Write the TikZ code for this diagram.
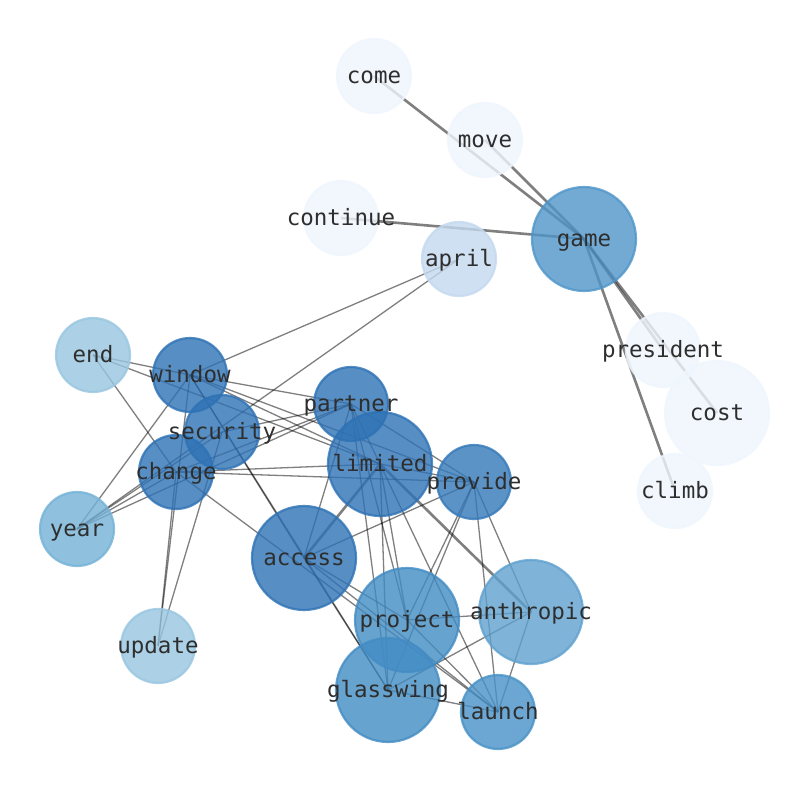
\documentclass[tikz,border=0pt]{standalone}
\usepackage{fontspec}
\setmonofont{DejaVu Sans Mono}
\pgfdeclarelayer{bg}
\pgfdeclarelayer{fg}
\pgfsetlayers{bg,main,fg}
\definecolor{cLight}{HTML}{EFF6FD}
\definecolor{cApril}{HTML}{C4D9EF}
\definecolor{cEnd}{HTML}{98C6E0}
\definecolor{cYear}{HTML}{74B2D7}
\definecolor{cAnth}{HTML}{5FA1CF}
\definecolor{cGame}{HTML}{4F95C9}
\definecolor{cGlass}{HTML}{428CC4}
\definecolor{cLaunch}{HTML}{4792C7}
\definecolor{cProv}{HTML}{3479B9}
\definecolor{cDark}{HTML}{2E72B5}
\definecolor{cText}{HTML}{2E2E2E}
\tikzset{
  wnode/.style={circle, inner sep=0pt, fill=#1, draw=#1, fill opacity=0.8, draw opacity=0.8, line width=2.2bp},
  small/.style={minimum size=74bp},
  big/.style={minimum size=104bp},
  lbl/.style={font=\ttfamily\fontsize{22.5bp}{25bp}\selectfont, text=cText, inner sep=0pt, anchor=center},
  thin edge/.style={draw=black, draw opacity=0.5, line width=1.3bp},
  thick edge/.style={draw=black, draw opacity=0.5, line width=2.6bp},
}
\begin{document}
\begin{tikzpicture}[x=1bp,y=-1bp]
\useasboundingbox (0,0) rectangle (794,790);
% nodes
\node[wnode=cLight, small] (come) at (374,76) {};
\node[wnode=cLight, small] (move) at (485,140) {};
\node[wnode=cLight, small] (cont) at (341,218) {};
\node[wnode=cApril, small] (april) at (459,259) {};
\node[wnode=cGame, big] (game) at (584,239) {};
\node[wnode=cLight, small] (pres) at (663,350) {};
\node[wnode=cLight, big] (cost) at (717,413) {};
\node[wnode=cLight, small] (climb) at (675,491) {};
\node[wnode=cEnd, small] (end) at (93,355) {};
\node[wnode=cDark, small] (window) at (190,375) {};
\node[wnode=cDark, small] (partner) at (351,404) {};
\node[wnode=cDark, small] (security) at (222,432) {};
\node[wnode=cDark, big] (limited) at (380,464) {};
\node[wnode=cDark, small] (change) at (176,472) {};
\node[wnode=cProv, small] (provide) at (474,482) {};
\node[wnode=cYear, small] (year) at (77,529) {};
\node[wnode=cDark, big] (access) at (304,558) {};
\node[wnode=cAnth, big] (anthropic) at (531,612) {};
\node[wnode=cGlass, big] (project) at (407,620) {};
\node[wnode=cEnd, small] (update) at (158,646) {};
\node[wnode=cGlass, big] (glasswing) at (388,690) {};
\node[wnode=cLaunch, small] (launch) at (498,712) {};
% edges
\begin{pgfonlayer}{bg}
\fill[white] (0,0) rectangle (794,790);
\foreach \a/\b in {come/game, move/game, cont/game, game/pres, game/cost, game/climb, limited/access, limited/anthropic}
  \draw[thick edge] (\a.center) -- (\b.center);
\foreach \a/\b in {end/window, window/partner, end/limited, end/change, window/april, window/year, window/update, window/access, window/glasswing, window/limited, window/provide, april/year, partner/security, partner/change, partner/year, partner/limited, partner/access, partner/project, partner/glasswing, partner/provide, change/limited, change/provide, change/launch, change/update, change/year, security/year, security/update, limited/project, limited/glasswing, limited/launch, limited/provide, provide/access, provide/project, provide/glasswing, provide/launch, provide/anthropic, access/project, access/glasswing, access/launch, project/anthropic, project/launch, glasswing/anthropic, glasswing/launch, anthropic/launch}
  \draw[thin edge] (\a.center) -- (\b.center);
\end{pgfonlayer}
% labels
\begin{pgfonlayer}{fg}
\foreach \n/\t in {come/come, move/move, cont/continue, april/april, game/game, pres/president, cost/cost, climb/climb, end/end, window/window, partner/partner, security/security, limited/limited, change/change, provide/provide, year/year, access/access, anthropic/anthropic, project/project, update/update, glasswing/glasswing, launch/launch}
  \node[lbl] (\n-t) at ([yshift=-1.5bp]\n.center) {\vphantom{Ag}\t};
\end{pgfonlayer}
\end{tikzpicture}
\end{document}
